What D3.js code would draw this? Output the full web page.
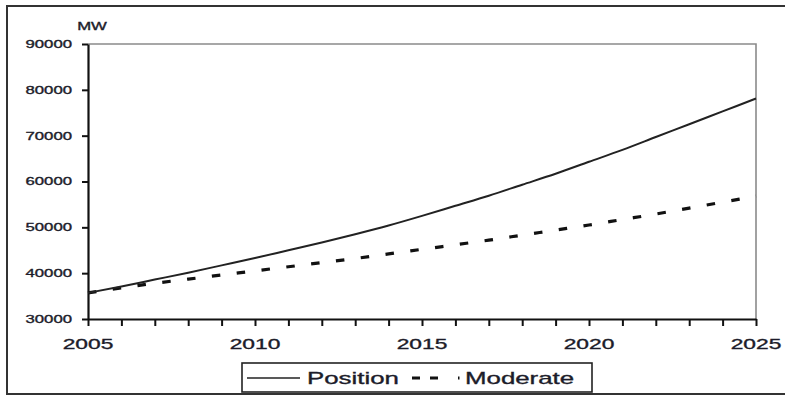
<!DOCTYPE html>
<html>
<head>
<meta charset="utf-8">
<script src="https://cdn.jsdelivr.net/npm/d3@7/dist/d3.min.js"></script>
<style>
  html, body { margin: 0; padding: 0; background: #fff; }
  svg { display: block; }
  text { font-family: "Liberation Sans", Arial, sans-serif; fill: #1c1c2a; stroke: #1c1c2a; stroke-width: 0.35px; }
</style>
</head>
<body>
<svg id="chart" width="785" height="396"></svg>
<script>
const years = d3.range(2005, 2026);
const position = [35700, 37100, 38600, 40100, 41700, 43300, 45000, 46700, 48500, 50400,
                  52500, 54700, 56900, 59300, 61700, 64300, 66900, 69700, 72500, 75300, 78100];
const moderate = [35700, 36800, 37800, 38700, 39600, 40500, 41400, 42300, 43200, 44200,
                  45200, 46200, 47200, 48300, 49400, 50500, 51700, 52900, 54200, 55500, 56800];
const yTicks = [30000, 40000, 50000, 60000, 70000, 80000, 90000];
const xLabels = [2005, 2010, 2015, 2020, 2025];
const seriesNames = ["Position", "Moderate"];
const unitLabel = "MW";

const svg = d3.select("#chart");
const plot = { left: 88, right: 756, top: 44, bottom: 319 };
const SX = 1.52; // horizontal stretch of text in the reference

const x = d3.scaleLinear().domain([2005, 2025]).range([plot.left, plot.right]);
const y = d3.scaleLinear().domain([30000, 90000]).range([plot.bottom, plot.top]);

// outer frame
svg.append("rect").attr("x", 7).attr("y", 6).attr("width", 790).attr("height", 388)
  .attr("fill", "none").attr("stroke", "#333").attr("stroke-width", 2);

// plot frame top/right (gray)
svg.append("path")
  .attr("d", `M${plot.left},${plot.top}H${plot.right}V${plot.bottom}`)
  .attr("fill", "none").attr("stroke", "#8a8a8a").attr("stroke-width", 1.6);

// axes
const gx = svg.append("g").attr("transform", `translate(0,${plot.bottom})`)
  .call(d3.axisBottom(x).tickValues(years).tickFormat("").tickSize(7).tickSizeOuter(0));
const gy = svg.append("g").attr("transform", `translate(${plot.left},0)`)
  .call(d3.axisLeft(y).tickValues(yTicks).tickFormat("").tickSize(6).tickSizeOuter(0));
[gx, gy].forEach(g => {
  g.select(".domain").attr("stroke", "#111").attr("stroke-width", 2.2);
  g.selectAll(".tick line").attr("stroke", "#111").attr("stroke-width", 2);
});

// y labels
svg.append("g").selectAll("text").data(yTicks).join("text")
  .attr("transform", d => `translate(72,${y(d)}) scale(${SX},1)`)
  .attr("text-anchor", "end").attr("dy", "0.36em")
  .style("font-size", "11px").text(d => d);

// unit label
svg.append("text")
  .attr("transform", `translate(92,26) scale(${SX},1)`)
  .attr("text-anchor", "middle").attr("dy", "0.36em")
  .style("font-size", "11px").text(unitLabel);

// x labels
svg.append("g").selectAll("text").data(xLabels).join("text")
  .attr("transform", d => `translate(${x(d)},349) scale(${SX},1)`)
  .attr("text-anchor", "middle")
  .style("font-size", "15px").text(d => d);

// lines
const line = d3.line().x((d, i) => x(years[i])).y(d => y(d)).curve(d3.curveMonotoneX);
svg.append("path").datum(moderate).attr("d", line)
  .attr("fill", "none").attr("stroke", "#111").attr("stroke-width", 3.2)
  .attr("stroke-dasharray", "8.5,16.5");
svg.append("path").datum(position).attr("d", line)
  .attr("fill", "none").attr("stroke", "#222").attr("stroke-width", 2);

// legend
const lg = svg.append("g");
lg.append("rect").attr("x", 242).attr("y", 363).attr("width", 350).attr("height", 29)
  .attr("fill", "#fff").attr("stroke", "#222").attr("stroke-width", 1.6);
lg.append("line").attr("x1", 247).attr("x2", 300).attr("y1", 378).attr("y2", 378)
  .attr("stroke", "#222").attr("stroke-width", 1.6);
lg.append("text").attr("transform", `translate(307,384) scale(${SX},1)`)
  .style("font-size", "17px").text(seriesNames[0]);
lg.append("line").attr("x1", 412).attr("x2", 461).attr("y1", 378).attr("y2", 378)
  .attr("stroke", "#111").attr("stroke-width", 3)
  .attr("stroke-dasharray", "8,10,8,20,1.5,10");
lg.append("text").attr("transform", `translate(465,384) scale(${SX},1)`)
  .style("font-size", "17px").text(seriesNames[1]);
</script>
</body>
</html>
